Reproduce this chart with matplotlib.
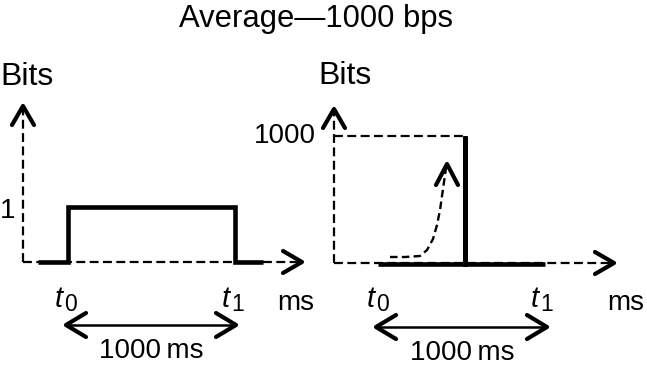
import matplotlib
matplotlib.use("Agg")
import matplotlib.pyplot as plt

plt.rcParams['font.family'] = ['Liberation Sans', 'DejaVu Sans']

# ---- data ----
title = "Average\u20141000 bps"
# left panel: constant rate, 1 bit level during 1000 ms
steady_t = [-180, 0, 0, 1000, 1000, 1170]
steady_bits = [0, 0, 1, 1, 0, 0]
# right panel: burst of 1000 bits at one instant
burst_t = [0, 520, 520, 520, 1000]
burst_bits = [0, 0, 1000, 0, 0]
burst_peak = 1000
left_ytick = "1"
right_ytick = "1000"
span_label = "1000\u2009ms"
time_marks = [("t", "0"), ("t", "1")]

W, H = 647, 371
fig = plt.figure(figsize=(W / 100, H / 100), dpi=100)

# decoration axes in pixel coordinates
deco = fig.add_axes([0, 0, 1, 1])
deco.set_xlim(0, W)
deco.set_ylim(H, 0)
deco.axis('off')


def data_axes(x0px, xscale, y0px, yscale):
    ax = fig.add_axes([0, 0, 1, 1])
    ax.set_xlim((0 - x0px) / xscale, (W - x0px) / xscale)
    ax.set_ylim((y0px - H) / yscale, y0px / yscale)
    ax.axis('off')
    return ax

DASH = dict(color='black', lw=1.6, dashes=(4, 2.0), solid_capstyle='butt')
HEAD = dict(color='black', lw=3.0, solid_capstyle='round', solid_joinstyle='round')


def chevron(x, y, direction, back=19, half=11):
    if direction == 'right':
        deco.plot([x - back, x, x - back], [y - half, y, y + half], **HEAD)
    elif direction == 'left':
        deco.plot([x + back, x, x + back], [y - half, y, y + half], **HEAD)
    elif direction == 'up':
        deco.plot([x - half, x, x + half], [y + back, y, y + back], **HEAD)

# ---- left panel axes (dashed) ----
deco.plot([23, 300], [262, 262], **DASH)
chevron(302, 262, 'right')
deco.plot([23, 23], [262, 108], **DASH)
chevron(23, 106, 'up')

# ---- right panel axes (dashed) ----
deco.plot([334, 612], [263, 263], **DASH)
chevron(614, 263, 'right')
deco.plot([334, 334], [263, 111], **DASH)
chevron(334, 109, 'up')

# ---- left data ----
axL = data_axes(68, 0.167, 262, 55.0)
axL.plot(steady_t, steady_bits, color='black', lw=3.3,
         solid_joinstyle='miter', solid_capstyle='butt')

# ---- right data ----
axR = data_axes(378, 0.167, 264, 0.128)
axR.plot([(334 - 378) / 0.167, burst_t[2]], [burst_peak, burst_peak], **DASH)
axR.plot(burst_t, burst_bits, color='black', lw=3.3,
         solid_joinstyle='miter', solid_capstyle='butt')

# rising dashed curve with arrow
cx = [390, 405, 420, 427, 433, 437, 440, 442, 444, 446]
cy = [257, 257, 256, 250, 239, 225, 210, 196, 182, 168]
deco.plot(cx, cy, color='black', lw=1.7, dashes=(3.2, 1.8))
chevron(447, 164, 'up', back=21, half=11)

# ---- double arrows ----
for xa, xb, y in [(66, 236, 325), (376, 547, 327)]:
    deco.plot([xa + 2, xb - 2], [y, y], color='black', lw=1.8)
    chevron(xa, y, 'left', back=20, half=12)
    chevron(xb, y, 'right', back=20, half=12)

# ---- texts ----
fs = 20
deco.text(316, 27, title, ha='center', va='baseline', fontsize=22.3)
deco.text(0, 85, "Bits", ha='left', va='baseline', fontsize=23)
deco.text(318, 84, "Bits", ha='left', va='baseline', fontsize=23)
deco.text(0, 218, left_ytick, ha='left', va='baseline', fontsize=fs)
deco.text(316, 143, right_ytick, ha='right', va='baseline', fontsize=fs)

for x0, (base, sub) in zip([55, 222, 367, 531], time_marks * 2):
    deco.text(x0, 307, base, ha='left', va='baseline', fontsize=21,
              style='italic')
    deco.text(x0 + 9, 311, sub, ha='left', va='baseline', fontsize=16.5)
deco.text(296, 310, "ms", ha='center', va='baseline', fontsize=fs)
deco.text(626, 310, "ms", ha='center', va='baseline', fontsize=fs)

deco.text(151, 358, span_label, ha='center', va='baseline', fontsize=fs)
deco.text(462, 360, span_label, ha='center', va='baseline', fontsize=fs)

fig.savefig("out.png", dpi=100)
